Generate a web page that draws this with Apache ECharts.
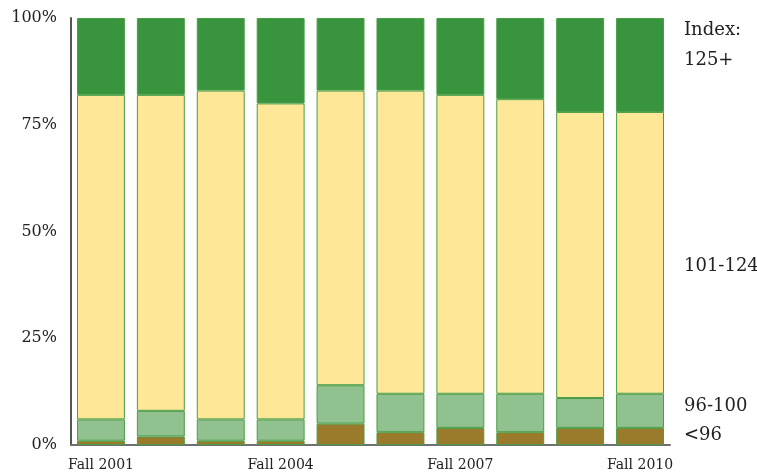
<!DOCTYPE html>
<html>
<head>
<meta charset="utf-8">
<script src="https://cdn.jsdelivr.net/npm/echarts@6/dist/echarts.min.js"></script>
<style>
  html, body { margin: 0; padding: 0; background: #fff; }
  #chart { width: 757px; height: 474px; }
</style>
</head>
<body>
<div id="chart"></div>
<script>
// categories (only every third one gets a label)
var years = ['Fall 2001', 'Fall 2002', 'Fall 2003', 'Fall 2004', 'Fall 2005',
             'Fall 2006', 'Fall 2007', 'Fall 2008', 'Fall 2009', 'Fall 2010'];
// share of students per index band, in percent
var below96 = [1, 2, 1, 1, 5, 3, 4, 3, 4, 4];
var from96to100 = [5, 6, 5, 5, 9, 9, 8, 9, 7, 8];
var from101to124 = [76, 74, 77, 74, 69, 71, 70, 69, 67, 66];
var above125 = [18, 18, 17, 20, 17, 17, 18, 19, 22, 22];
var yTicks = ['0%', '25%', '50%', '75%', '100%'];

var chart = echarts.init(document.getElementById('chart'));
var font = 'DejaVu Serif';

function band(name, data, color) {
  return {
    name: name,
    type: 'bar',
    stack: 'all',
    barCategoryGap: '20%',
    data: data,
    itemStyle: { color: color, borderColor: '#4a9d45', borderWidth: 1 }
  };
}

var option = {
  animation: false,
  grid: { left: 71, right: 87, top: 18, bottom: 29 },
  xAxis: {
    type: 'category',
    data: years,
    axisLine: { lineStyle: { color: '#707070', width: 2 } },
    axisTick: { show: false },
    axisLabel: { interval: 2, color: '#222', fontFamily: font, fontSize: 14, margin: 13 }
  },
  yAxis: {
    type: 'value',
    min: 0, max: 100, interval: 25,
    splitLine: { show: false },
    axisLine: { show: true, lineStyle: { color: '#555', width: 2 } },
    axisTick: { show: false },
    axisLabel: {
      color: '#222', fontFamily: font, fontSize: 16, margin: 14,
      formatter: function (v) { return yTicks[v / 25]; }
    }
  },
  series: [
    band('<96', below96, '#9a7a2b'),
    band('96-100', from96to100, '#91c18e'),
    band('101-124', from101to124, '#fee796'),
    band('125+', above125, '#39943e')
  ],
  graphic: [
    { type: 'text', left: 684, top: 21, style: { text: 'Index:', font: '18px ' + font, fill: '#222' } },
    { type: 'text', left: 684, top: 51, style: { text: '125+', font: '18px ' + font, fill: '#222' } },
    { type: 'text', left: 684, top: 257, style: { text: '101-124', font: '18px ' + font, fill: '#222' } },
    { type: 'text', left: 684, top: 397, style: { text: '96-100', font: '18px ' + font, fill: '#222' } },
    { type: 'text', left: 684, top: 426, style: { text: '<96', font: '18px ' + font, fill: '#222' } }
  ]
};
chart.setOption(option);
</script>
</body>
</html>
